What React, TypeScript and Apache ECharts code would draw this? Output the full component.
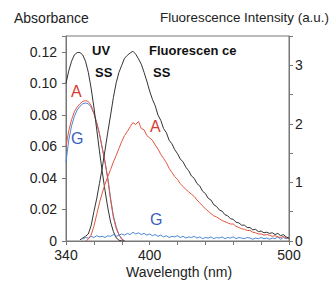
import React, { useEffect, useRef } from "react";
import * as echarts from "echarts";

// ---- data ----
const uvWavelengths = [340, 342, 344, 346, 348, 350, 352, 354, 356, 358, 360, 362, 364, 366, 368, 370, 372, 374, 376, 378, 380, 382];
const uvSS = [0.1, 0.108, 0.114, 0.118, 0.1195, 0.1195, 0.118, 0.114, 0.107, 0.097, 0.085, 0.071, 0.057, 0.044, 0.032, 0.021, 0.012, 0.006, 0.002, 0.0005, 0.0, 0.0];
const uvA = [0.06, 0.07, 0.077, 0.082, 0.085, 0.087, 0.0885, 0.089, 0.0885, 0.086, 0.081, 0.075, 0.068, 0.059, 0.05, 0.039, 0.026, 0.015, 0.008, 0.004, 0.001, 0.0];
const uvG = [0.05, 0.064, 0.073, 0.079, 0.083, 0.0855, 0.087, 0.0875, 0.087, 0.085, 0.081, 0.075, 0.068, 0.059, 0.05, 0.04, 0.027, 0.016, 0.009, 0.004, 0.0015, 0.0];

const flWavelengths = [
  350, 352, 354, 356, 358, 360, 362, 364, 366, 368,
  370, 372, 374, 376, 378, 380, 382, 384, 386, 388,
  390, 392, 394, 396, 398, 400, 402, 404, 406, 408,
  410, 412, 414, 416, 418, 420, 422, 424, 426, 428,
  430, 432, 434, 436, 438, 440, 442, 444, 446, 448,
  450, 452, 454, 456, 458, 460, 462, 464, 466, 468,
  470, 472, 474, 476, 478, 480, 482, 484, 486, 488,
  490, 492, 494, 496, 498, 500,
];
const flSS = [
  0.02, 0.05, 0.08, 0.12, 0.26, 0.5, 0.72, 0.98, 1.25, 1.55,
  1.86, 2.15, 2.45, 2.7, 2.88, 3.0, 3.12, 3.17, 3.21, 3.24,
  3.19, 3.11, 3.02, 2.88, 2.73, 2.56, 2.42, 2.31, 2.15, 2.06,
  1.92, 1.85, 1.72, 1.66, 1.56, 1.49, 1.4, 1.35, 1.26, 1.2,
  1.11, 1.07, 0.98, 0.94, 0.85, 0.81, 0.73, 0.7, 0.62, 0.59,
  0.53, 0.51, 0.45, 0.43, 0.38, 0.37, 0.32, 0.31, 0.27, 0.27,
  0.23, 0.23, 0.19, 0.2, 0.16, 0.17, 0.14, 0.15, 0.13, 0.14,
  0.11, 0.13, 0.09, 0.11, 0.07, 0.05,
];
const flA = [
  null, null, 0.0, 0.03, 0.1, 0.25, 0.45, 0.65, 0.82, 0.97,
  1.1, 1.22, 1.35, 1.46, 1.58, 1.7, 1.8, 1.87, 1.95, 2.02,
  1.99, 2.04, 1.92, 1.9, 1.8, 1.76, 1.72, 1.64, 1.57, 1.48,
  1.41, 1.34, 1.24, 1.17, 1.1, 1.05, 0.98, 0.93, 0.88, 0.84,
  0.8, 0.76, 0.7, 0.65, 0.6, 0.55, 0.51, 0.47, 0.43, 0.41,
  0.38, 0.35, 0.33, 0.31, 0.29, 0.29, 0.25, 0.23, 0.21, 0.2,
  0.18, 0.18, 0.15, 0.14, 0.12, 0.12, 0.1, 0.11, 0.1, 0.08,
  0.09, 0.07, 0.06, 0.08, 0.05, 0.05,
];
const flG = [
  null, 0.03, 0.06, 0.05, 0.08, 0.06, 0.09, 0.07, 0.08, 0.06,
  0.09, 0.08, 0.11, 0.08, 0.1, 0.12, 0.1, 0.13, 0.11, 0.15,
  0.12, 0.14, 0.11, 0.13, 0.1, 0.12, 0.09, 0.11, 0.08, 0.1,
  0.07, 0.09, 0.06, 0.08, 0.07, 0.09, 0.06, 0.08, 0.05, 0.07,
  0.06, 0.08, 0.05, 0.07, 0.04, 0.06, 0.05, 0.07, 0.04, 0.06,
  0.05, 0.07, 0.04, 0.06, 0.05, 0.07, 0.04, 0.06, 0.05, 0.04,
  0.06, 0.05, 0.03, 0.05, 0.04, 0.06, 0.04, 0.05, 0.03, 0.05,
  0.04, 0.07, 0.03, 0.06, 0.04, 0.05,
];

const xTickLabels = [340, 400, 500];
const leftTickMax = 0.12;
const rightTickLabels = [0, 1, 2, 3];

const FONT = "'Liberation Sans', Arial, Helvetica, sans-serif";
const BLACK = "#333333";
const RED = "#e2553f";
const BLUE = "#4a86d6";
const AXIS = "#777";

function pairs(xs: number[], ys: (number | null)[]) {
  return xs.map((x, i) => [x, ys[i]]);
}

export default function App() {
  const ref = useRef<HTMLDivElement>(null);
  useEffect(() => {
    if (!ref.current) return;
    const chart = echarts.init(ref.current, null, { renderer: "svg" });
    const lineBase = {
      type: "line",
      showSymbol: false,
      symbol: "none",
      connectNulls: false,
      smooth: false,
    };
    chart.setOption({
      animation: false,
      grid: {
        left: 66,
        right: 45,
        top: 36,
        bottom: 41,
        show: true,
        borderColor: AXIS,
        borderWidth: 1,
        backgroundColor: "transparent",
      },
      xAxis: {
        type: "value",
        min: 340,
        max: 500,
        interval: 20,
        axisLine: { show: true, lineStyle: { color: AXIS, width: 1 } },
        axisTick: { show: true, inside: false, length: 4, lineStyle: { color: AXIS } },
        splitLine: { show: false },
        axisLabel: {
          margin: 7,
          fontFamily: FONT,
          fontSize: 14,
          color: "#222",
          formatter: (v: number) => (xTickLabels.includes(Math.round(v)) ? String(Math.round(v)) : ""),
        },
      },
      yAxis: [
        {
          type: "value",
          min: 0,
          max: 0.13,
          interval: 0.02,
          position: "left",
          axisLine: { show: true, lineStyle: { color: AXIS, width: 1 } },
          axisTick: { show: true, inside: false, length: 4, lineStyle: { color: AXIS } },
          splitLine: { show: false },
          axisLabel: {
            margin: 9,
            fontFamily: FONT,
            fontSize: 14,
            color: "#222",
            formatter: (v: number) => {
              if (v > leftTickMax + 0.001) return "";
              if (v === 0) return "0";
              return v.toFixed(2);
            },
          },
        },
        {
          type: "value",
          min: 0,
          max: 3.5,
          interval: 0.5,
          position: "right",
          axisLine: { show: true, lineStyle: { color: AXIS, width: 1 } },
          axisTick: { show: true, inside: false, length: 4, lineStyle: { color: AXIS } },
          splitLine: { show: false },
          axisLabel: {
            margin: 6,
            fontFamily: FONT,
            fontSize: 14,
            color: "#222",
            formatter: (v: number) => (rightTickLabels.includes(v) ? String(v) : ""),
          },
        },
      ],
      series: [
        { ...lineBase, name: "UV G", yAxisIndex: 0, data: pairs(uvWavelengths, uvG), lineStyle: { color: BLUE, width: 1 } },
        { ...lineBase, name: "UV A", yAxisIndex: 0, data: pairs(uvWavelengths, uvA), lineStyle: { color: RED, width: 1 } },
        { ...lineBase, name: "UV SS", yAxisIndex: 0, data: pairs(uvWavelengths, uvSS), lineStyle: { color: BLACK, width: 1 } },
        { ...lineBase, name: "Fl G", yAxisIndex: 1, data: pairs(flWavelengths, flG), lineStyle: { color: BLUE, width: 1 } },
        { ...lineBase, name: "Fl A", yAxisIndex: 1, data: pairs(flWavelengths, flA), lineStyle: { color: RED, width: 1 } },
        { ...lineBase, name: "Fl SS", yAxisIndex: 1, data: pairs(flWavelengths, flSS), lineStyle: { color: BLACK, width: 1 } },
      ],
      graphic: [
        { type: "text", left: 14, top: 11, style: { text: "Absorbance", font: `14px ${FONT}`, fill: "#222" } },
        { type: "text", left: 160, top: 11, style: { text: "Fluorescence Intensity (a.u.)", font: `13.4px ${FONT}`, fill: "#222" } },
        { type: "text", left: 126, top: 265, style: { text: "Wavelength (nm)", font: `14px ${FONT}`, fill: "#222" } },
        { type: "text", left: 92, top: 44, style: { text: "UV", font: `bold 13px ${FONT}`, fill: "#111" } },
        { type: "text", left: 95, top: 66, style: { text: "SS", font: `bold 13px ${FONT}`, fill: "#111" } },
        { type: "text", left: 149, top: 44, style: { text: "Fluorescen ce", font: `bold 13px ${FONT}`, fill: "#111" } },
        { type: "text", left: 153, top: 66, style: { text: "SS", font: `bold 13px ${FONT}`, fill: "#111" } },
        { type: "text", left: 71, top: 83, style: { text: "A", font: `16px ${FONT}`, fill: "#d83a32" } },
        { type: "text", left: 71, top: 130, style: { text: "G", font: `16px ${FONT}`, fill: "#3a5fc0" } },
        { type: "text", left: 150, top: 118, style: { text: "A", font: `16px ${FONT}`, fill: "#d83a32" } },
        { type: "text", left: 150, top: 211, style: { text: "G", font: `16px ${FONT}`, fill: "#3a5fc0" } },
      ],
    });
    return () => chart.dispose();
  }, []);
  return (
    <div
      ref={ref}
      style={{ position: "fixed", left: 0, top: 0, width: 334, height: 282, background: "#fff" }}
    />
  );
}
